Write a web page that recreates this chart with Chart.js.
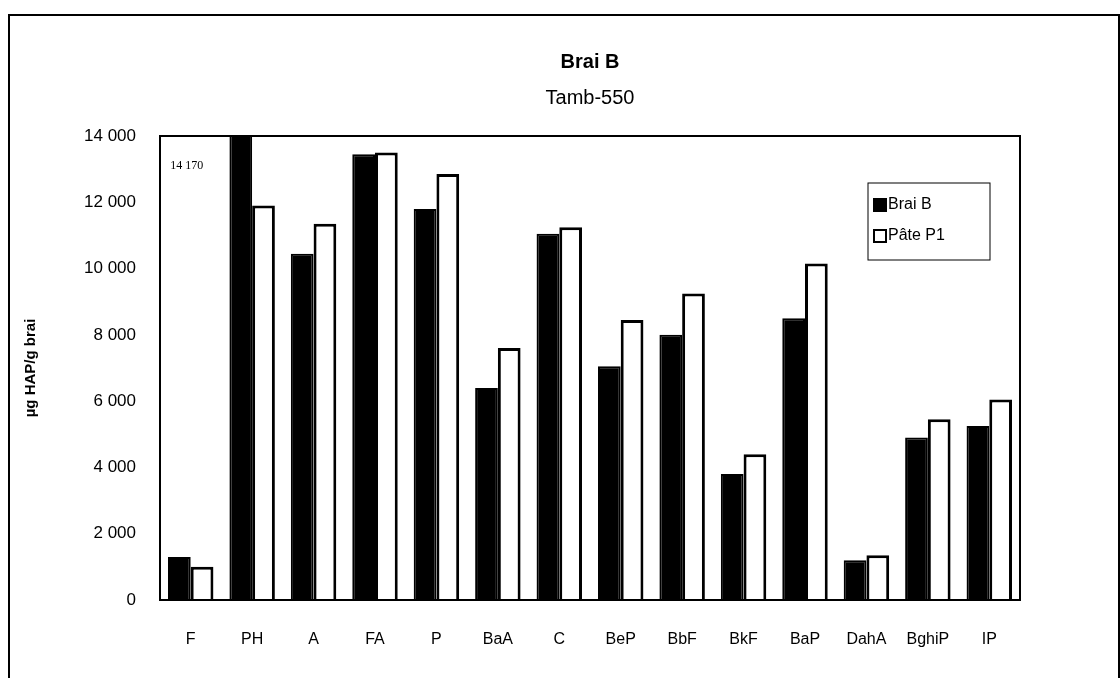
<!DOCTYPE html>
<html>
<head>
<meta charset="utf-8">
<script src="https://cdn.jsdelivr.net/npm/chart.js@4.4.1/dist/chart.umd.min.js"></script>
<style>
  body { margin: 0; background: #fff; }
  #frame { position: absolute; left: 8px; top: 14px; width: 1108px; height: 700px; border: 2px solid #000; }
  #wrap { position: absolute; left: 0; top: 0; width: 1120px; height: 678px; }
</style>
</head>
<body>
<div id="frame"></div>
<div id="wrap"><canvas id="barChart" width="1120" height="678"></canvas></div>
<script>
var categories = ['F', 'PH', 'A', 'FA', 'P', 'BaA', 'C', 'BeP', 'BbF', 'BkF', 'BaP', 'DahA', 'BghiP', 'IP'];
var braiB = [1300, 14170, 10450, 13450, 11800, 6400, 11050, 7050, 8000, 3800, 8500, 1200, 4900, 5250];
var pateP1 = [1000, 11900, 11350, 13500, 12850, 7600, 11250, 8450, 9250, 4400, 10150, 1350, 5450, 6050];
var yTicks = [0, 2000, 4000, 6000, 8000, 10000, 12000, 14000];

var titleText = 'Brai B';
var subtitleText = 'Tamb-550';
var yTitle = 'µg HAP/g brai';

function espace(v) {
  return String(v).replace(/\B(?=(\d{3})+(?!\d))/g, ' ');
}

// titres, cadre du graphe, légende, étiquette de la barre coupée
var decor = {
  id: 'decor',
  afterDraw: function(chart) {
    var ctx = chart.ctx;
    var a = chart.chartArea;
    var cx = (a.left + a.right) / 2;
    ctx.save();
    ctx.fillStyle = '#000';
    ctx.textAlign = 'center';
    ctx.textBaseline = 'middle';
    ctx.font = 'bold 20px "Liberation Sans", Arial, sans-serif';
    ctx.fillText(titleText, cx, 62);
    ctx.font = '20px "Liberation Sans", Arial, sans-serif';
    ctx.fillText(subtitleText, cx, 98);

    ctx.strokeStyle = '#000';
    ctx.lineWidth = 2;
    ctx.strokeRect(a.left, a.top, a.right - a.left, a.bottom - a.top);

    // valeur hors échelle
    var meta = chart.getDatasetMeta(0);
    var max = chart.scales.y.max;
    meta.data.forEach(function(bar, i) {
      if (braiB[i] > max) {
        ctx.font = '12px "Liberation Serif", "Times New Roman", serif';
        ctx.fillText(espace(braiB[i]), bar.x - 54, a.top + 30);
      }
    });

    // légende
    var lx = 868, ly = 183, lw = 122, lh = 77;
    ctx.lineWidth = 1;
    ctx.strokeRect(lx, ly, lw, lh);
    ctx.textAlign = 'left';
    ctx.font = '16px "Liberation Sans", Arial, sans-serif';
    chart.data.datasets.forEach(function(ds, i) {
      var y = ly + 22 + i * 31;
      ctx.fillStyle = ds.backgroundColor;
      ctx.fillRect(lx + 6, y - 6, 12, 12);
      ctx.lineWidth = 2;
      ctx.strokeRect(lx + 6, y - 6, 12, 12);
      ctx.fillStyle = '#000';
      ctx.fillText(ds.label, lx + 20, y);
    });
    ctx.restore();
  }
};

var options = {
  type: 'bar',
  data: {
    labels: categories,
    datasets: [{
      label: 'Brai B',
      data: braiB,
      backgroundColor: '#000',
      borderColor: '#000',
      borderWidth: 2,
      categoryPercentage: 0.74,
      barPercentage: 1
    }, {
      label: 'Pâte P1',
      data: pateP1,
      backgroundColor: '#fff',
      borderColor: '#000',
      borderWidth: 3,
      categoryPercentage: 0.74,
      barPercentage: 1
    }]
  },
  options: {
    responsive: false,
    animation: false,
    layout: {
      padding: { left: 14, top: 136, right: 100, bottom: 0 }
    },
    plugins: {
      legend: { display: false },
      tooltip: { enabled: false }
    },
    scales: {
      x: {
        grid: { display: false },
        border: { color: '#000', width: 2 },
        ticks: {
          color: '#000',
          padding: 22,
          font: { family: '"Liberation Sans", Arial, sans-serif', size: 16 }
        },
        afterFit: function(scale) { scale.height = 78; }
      },
      y: {
        min: 0,
        max: 14000,
        grid: { display: false },
        border: { color: '#000', width: 2 },
        afterBuildTicks: function(scale) {
          scale.ticks = yTicks.map(function(v) { return { value: v }; });
        },
        ticks: {
          color: '#000',
          padding: 16,
          font: { family: '"Liberation Sans", Arial, sans-serif', size: 17 },
          callback: function(v) { return espace(v); }
        },
        title: {
          display: true,
          text: yTitle,
          color: '#000',
          padding: { top: 8, bottom: 0 },
          font: { family: '"Liberation Sans", Arial, sans-serif', size: 15, weight: 'bold' }
        },
        afterFit: function(scale) { scale.width = 146; }
      }
    }
  },
  plugins: [decor]
};

var chart = new Chart(document.getElementById('barChart'), options);
</script>
</body>
</html>
